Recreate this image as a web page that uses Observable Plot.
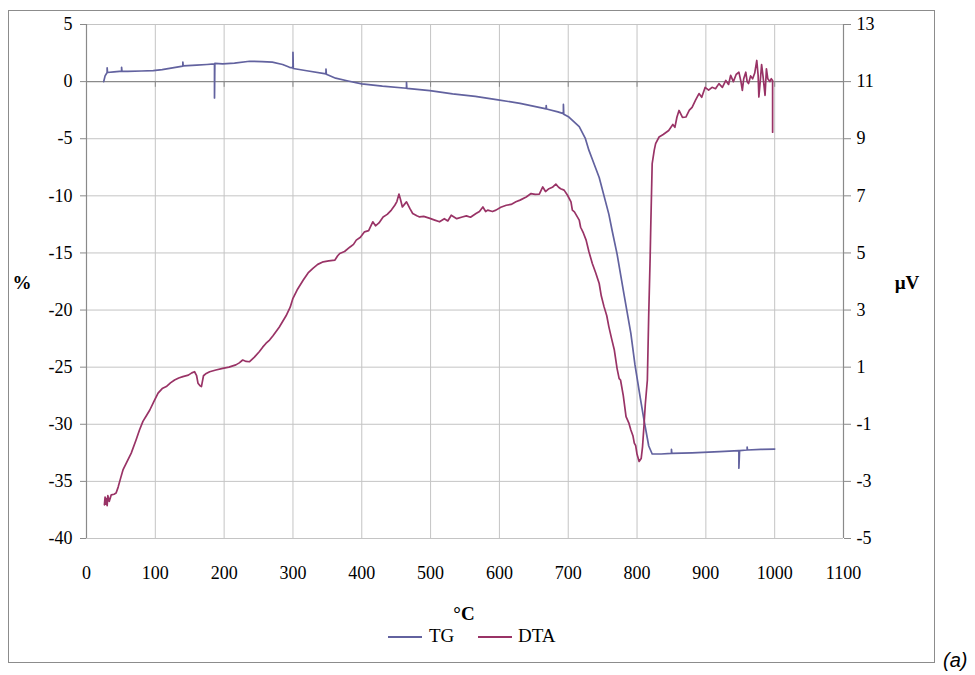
<!DOCTYPE html>
<html><head><meta charset="utf-8">
<script src="https://cdn.jsdelivr.net/npm/d3@7"></script>
<script src="https://cdn.jsdelivr.net/npm/@observablehq/plot@0.6"></script>
<style>
body{margin:0;background:#fff;}
#wrap{position:relative;width:975px;height:675px;font-family:"Liberation Serif","Times New Roman",serif;color:#000;}
#border{position:absolute;left:8px;top:10px;width:927px;height:653px;border:1.5px solid #8c8c8c;box-sizing:border-box;}
#chart{position:absolute;left:0;top:0;}
#chart svg, #chart svg text{font-family:"Liberation Serif","Times New Roman",serif !important;}
.c{position:absolute;transform:translate(-50%,-50%);white-space:nowrap;}
.b{font-weight:bold;font-size:19px;}
.leg{position:absolute;top:636px;transform:translateY(-50%);font-size:19px;white-space:nowrap;}
.sw{position:absolute;top:636px;height:0;border-top:2px solid;}
#tag{position:absolute;left:943px;top:660px;transform:translateY(-50%);font-family:"Liberation Sans",Arial,sans-serif;font-style:italic;font-size:20px;}
</style>
</head><body>
<div id="wrap">
  <div id="border"></div>
  <div id="chart"></div>
  <div class="c b" style="left:22px;top:283px;">%</div>
  <div class="c b" style="left:907px;top:283px;">µV</div>
  <div class="c b" style="left:464px;top:614px;">°C</div>
  <div class="sw" style="left:388px;width:34px;border-color:#62629f;"></div>
  <div class="leg" style="left:429px;">TG</div>
  <div class="sw" style="left:478px;width:34px;border-color:#993366;"></div>
  <div class="leg" style="left:518px;">DTA</div>
  <div id="tag">(a)</div>
</div>
<script>
// Axis ticks
const xTicks = [0,100,200,300,400,500,600,700,800,900,1000,1100];
const pctTicks = [5,0,-5,-10,-15,-20,-25,-30,-35,-40];
const uvTicks = [13,11,9,7,5,3,1,-1,-3,-5];

// TG (%) vs temperature (°C)
const tgT = [25,27,30,30,30.5,40,48,51,51,51.5,60,80,97,110,125,140,140,140.5,160,175,186,186,186.5,198,215,237,255,270,285,295,300,300,300.5,320,348,348,348.5,362,380,400,430,465,465,465.5,499,532,565,598,630,668,668,668.5,685,693,693,693.5,701,716,725,730,735,745,759,764,771,781,791,797,805,810,817,822,835,850,850,850.5,880,920,948,948,949,960,960,960.5,980,1000];
const tgV = [0,0.5,0.8,1.2,0.8,0.85,0.9,0.9,1.25,0.92,0.9,0.93,0.96,1.05,1.2,1.35,1.7,1.38,1.45,1.5,1.55,-1.43,1.6,1.55,1.62,1.78,1.75,1.7,1.5,1.25,1.2,2.56,1.15,0.95,0.67,1.1,0.65,0.3,0.05,-0.2,-0.4,-0.58,-0.06,-0.6,-0.79,-1.08,-1.3,-1.6,-1.9,-2.39,-2.1,-2.4,-2.65,-2.8,-2.0,-2.85,-3.1,-3.95,-5.0,-6.0,-6.8,-8.4,-11.6,-13.1,-15.1,-18.6,-22.05,-24.8,-27.8,-29.6,-31.9,-32.6,-32.6,-32.55,-32.2,-32.55,-32.5,-32.4,-32.3,-33.85,-32.3,-32.25,-32.0,-32.25,-32.2,-32.17];

// DTA (µV) vs temperature (°C)
const dtaT = [26,27,28,29,30,31,33,36,40,43,46,50,53,58,65,72,77,82,87,92,98,104,110,116,122,128,134,140,148,153,157,160,162,165,167,170,174,179,188,198,207,217,222,227,232,237,244,251,256,261,266,271,280,290,296,300,306,315,322,329,336,344,352,361,365,368,375,383,388,392,398,404,410,416,420,425,431,437,443,448,451,454,456,459,462,465,470,474,480,484,490,499,506,513,520,525,530,538,546,552,558,566,571,576,580,583,590,595,602,610,617,624,630,639,646,652,658,663,667,672,677,682,686,689,694,699,704,706,709,716,718,722,726,730,735,740,745,748,752,756,759,763,767,771,774,776,780,784,788,791,794,796,798,800,803,806,808,810,812,815,817,819,820,822,825,827,832,838,846,852,855,858,861,866,871,876,880,885,890,894,899,904,909,914,919,924,929,933,936,940,944,948,951,953,955,958,960,962,965,968,971,974,976,977,979,981,983,986,988,990,993,995,997,997];
const dtaU = [-3.82,-3.55,-3.8,-3.6,-3.85,-3.5,-3.7,-3.47,-3.45,-3.41,-3.2,-2.85,-2.6,-2.35,-2.01,-1.55,-1.2,-0.9,-0.7,-0.5,-0.2,0.09,0.25,0.32,0.45,0.55,0.62,0.67,0.72,0.8,0.84,0.7,0.44,0.35,0.32,0.7,0.78,0.84,0.9,0.96,1.0,1.08,1.15,1.25,1.2,1.19,1.35,1.54,1.7,1.84,1.95,2.1,2.4,2.8,3.1,3.41,3.7,4.05,4.3,4.46,4.6,4.69,4.72,4.75,4.9,4.98,5.05,5.21,5.3,5.45,5.55,5.74,5.78,6.09,5.95,6.05,6.26,6.35,6.5,6.67,6.8,7.06,6.9,6.61,6.7,6.79,6.55,6.38,6.3,6.26,6.28,6.21,6.15,6.09,6.2,6.12,6.32,6.2,6.26,6.3,6.25,6.38,6.45,6.61,6.45,6.5,6.45,6.5,6.6,6.67,6.7,6.79,6.85,6.96,7.08,7.05,7.06,7.31,7.15,7.25,7.3,7.41,7.3,7.25,7.2,7.02,6.79,6.5,6.44,6.15,5.9,5.7,5.45,5.05,4.63,4.3,3.93,3.5,3.12,2.8,2.42,2.0,1.6,0.95,0.6,0.55,0.0,-0.73,-0.95,-1.2,-1.4,-1.66,-1.75,-2.05,-2.3,-2.2,-1.78,-1.08,-0.3,0.55,2.88,4.8,6.0,8.13,8.6,8.83,9.06,9.15,9.29,9.5,9.4,9.76,9.99,9.75,9.76,10.0,10.1,10.35,10.58,10.45,10.8,10.7,10.8,10.75,10.93,10.8,11.04,10.9,11.22,11.0,11.25,11.33,11.0,10.69,11.1,11.33,11.0,10.93,11.2,11.1,11.3,11.74,11.2,10.46,11.0,11.6,11.2,10.52,11.45,11.1,11.0,11.1,11.04,9.23];

// map µV (right axis, -5..13) onto the % scale (left axis, -40..5)
const uvToPct = u => (u - 13) * 2.5 + 5;
const pctToUv = v => Math.round((v - 5) / 2.5 + 13);

const tg = tgT.map((t, i) => ({t, v: tgV[i]}));
const dta = dtaT.map((t, i) => ({t, v: uvToPct(dtaU[i])}));

const grid = "#c4c4c4", axisC = "#8a8a8a";

const chart = Plot.plot({
  width: 975, height: 675,
  marginLeft: 86, marginRight: 132, marginTop: 24, marginBottom: 137,
  style: {fontFamily: "Liberation Serif, serif", fontSize: "18px", background: "transparent", color: "#000", overflow: "visible"},
  x: {domain: [0, 1100]},
  y: {domain: [-40, 5]},
  marks: [
    Plot.gridX(xTicks.slice(1), {stroke: grid, strokeOpacity: 1}),
    Plot.gridY(pctTicks.filter(d => d !== 0), {stroke: grid, strokeOpacity: 1}),
    Plot.ruleY([0], {stroke: axisC, strokeWidth: 1.2}),
    Plot.ruleX(xTicks, {x: d => d, y1: 0, y2: -0.5, stroke: axisC}),
    Plot.ruleX([0], {stroke: axisC, strokeWidth: 1.2}),
    Plot.ruleX([1100], {stroke: axisC, strokeWidth: 1.2}),
    Plot.axisX(xTicks, {anchor: "bottom", tickSize: 0, tickPadding: 28, label: null, tickFormat: d => String(d)}),
    Plot.axisY(pctTicks, {anchor: "left", tickSize: 6, tickPadding: 8, stroke: axisC, label: null, tickFormat: d => String(d)}),
    Plot.axisY(uvTicks.map(uvToPct), {anchor: "right", tickSize: 7, tickPadding: 6, stroke: axisC, label: null, tickFormat: d => String(pctToUv(d))}),
    Plot.line(tg, {x: "t", y: "v", stroke: "#62629f", strokeWidth: 1.7}),
    Plot.line(dta, {x: "t", y: "v", stroke: "#993366", strokeWidth: 1.7})
  ]
});
document.getElementById("chart").appendChild(chart);
</script>
</body></html>
